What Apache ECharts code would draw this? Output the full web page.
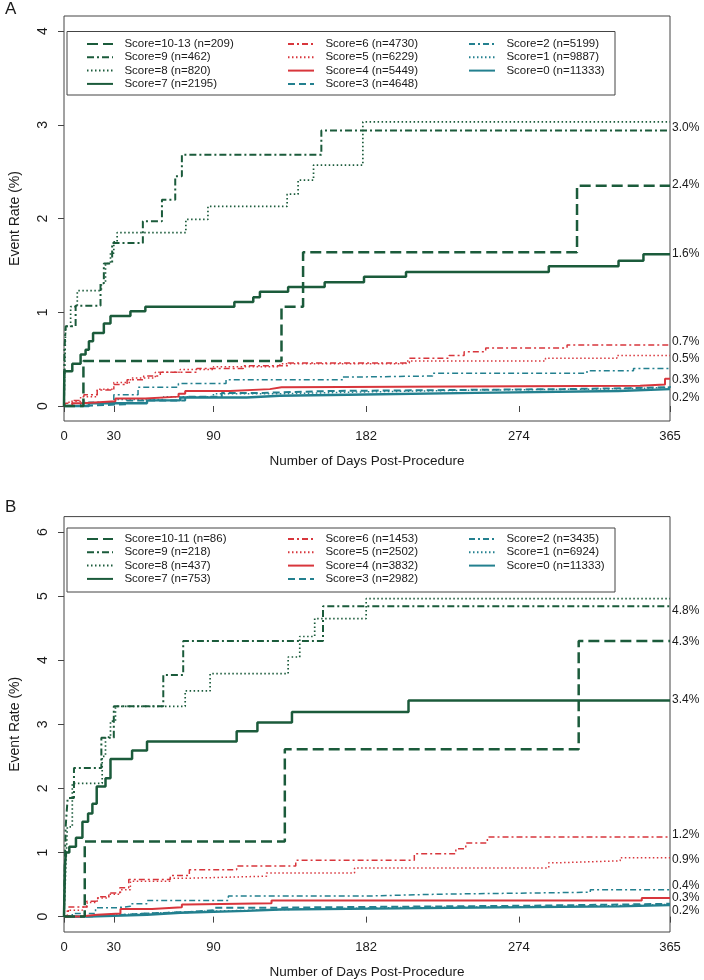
<!DOCTYPE html>
<html>
<head>
<meta charset="utf-8">
<script src="https://cdn.jsdelivr.net/npm/echarts@6/dist/echarts.min.js"></script>
<style>
html,body{margin:0;padding:0;background:#fff;}
#chart{width:704px;height:980px;}
</style>
</head>
<body>
<div id="chart"></div>
<script>
// ---------- data ----------
const xTicks = [0, 30, 90, 182, 274, 365];
const yTicksA = [0, 1, 2, 3, 4];
const yTicksB = [0, 1, 2, 3, 4, 5, 6];

const namesA = ['Score=10-13 (n=209)','Score=9 (n=462)','Score=8 (n=820)','Score=7 (n=2195)',
  'Score=6 (n=4730)','Score=5 (n=6229)','Score=4 (n=5449)','Score=3 (n=4648)',
  'Score=2 (n=5199)','Score=1 (n=9887)','Score=0 (n=11333)'];
const namesB = ['Score=10-11 (n=86)','Score=9 (n=218)','Score=8 (n=437)','Score=7 (n=753)',
  'Score=6 (n=1453)','Score=5 (n=2502)','Score=4 (n=3832)','Score=3 (n=2982)',
  'Score=2 (n=3435)','Score=1 (n=6924)','Score=0 (n=11333)'];

// panel A: [day, event rate %]
const a10 = [[0,0],[11.7,0.48],[131,1.06],[144,1.64],[309,2.35],[365,2.35]];
const a9  = [[0,0],[0.3,0.6],[1,0.85],[7,1.07],[22,1.31],[24,1.52],[29,1.74],[47.5,1.97],[59,2.20],[67,2.45],[71,2.68],[155,2.94],[365,2.94]];
const a8  = [[0,0],[1,0.85],[4,1.06],[8,1.23],[22.5,1.31],[25,1.52],[28,1.63],[30,1.75],[32,1.85],[73.4,1.99],[86.7,2.13],[134.4,2.26],[141,2.41],[150.3,2.57],[180,3.03],[365,3.03]];
const a7  = [[0,0],[0.2,0.37],[5,0.45],[10,0.55],[13,0.60],[15,0.69],[17.5,0.78],[24,0.88],[28,0.96],[40,1.01],[49,1.06],[102.6,1.11],[114,1.16],[118,1.22],[135,1.27],[157,1.32],[180.7,1.38],[206,1.43],[292,1.49],[334,1.55],[349,1.62],[365,1.62]];
const a6  = [[0,0],[1,0.03],[5,0.06],[12,0.12],[20,0.17],[30,0.23],[38,0.28],[48,0.32],[58,0.36],[80,0.40],[108,0.43],[135,0.46],[208,0.51],[232,0.54],[241,0.58],[254,0.62],[303,0.65],[365,0.65]];
const a5  = [[0,0],[3,0.05],[10,0.10],[20,0.18],[30,0.25],[40,0.30],[55,0.36],[70,0.39],[90,0.42],[130,0.45],[206,0.48],[290,0.51],[333,0.54],[365,0.54]];
const a4  = [[0,0],[5,0.03],[11,0.05],[31,0.08],[49,0.10],[69,0.13],[73,0.16],[100,0.18],[124,0.20],[131,0.216],[347,0.23],[362,0.29],[365,0.29]];
const a3  = [[0,0],[10,0.02],[38,0.06],[73,0.10],[95,0.14],[120,0.16],[160,0.17],[230,0.18],[300,0.19],[340,0.20],[365,0.21]];
const a2  = [[0,0],[10,0.04],[30,0.12],[44.6,0.20],[68.9,0.24],[97.6,0.28],[168,0.31],[180,0.32],[222,0.35],[315,0.375],[343,0.40],[365,0.40]];
const a1  = [[0,0],[10,0.03],[30,0.07],[60,0.10],[90,0.13],[130,0.15],[180,0.17],[250,0.18],[320,0.19],[350,0.20],[365,0.20]];
const a0  = [[0,0],[15,0.03],[50,0.06],[70,0.09],[110,0.11],[130,0.12],[171,0.14],[248,0.16],[334,0.18],[365,0.18]];

// panel B
const b10 = [[0,0],[12.5,1.17],[133,2.61],[310,4.30],[365,4.30]];
const b9  = [[0,0],[0.5,0.8],[1,1.40],[2.2,1.85],[6,2.32],[22.5,2.79],[30,3.28],[59.8,3.77],[71.8,4.30],[156,4.84],[365,4.84]];
const b8  = [[0,0],[1,0.7],[2,1.40],[5,2.08],[23,2.5],[25,2.8],[28,3.05],[31,3.28],[73,3.52],[88,3.79],[135,4.05],[142,4.37],[151,4.65],[182,4.96],[365,4.96]];
const b7  = [[0,0],[0.6,0.81],[1.2,1.0],[3.2,1.09],[7.2,1.23],[11.1,1.48],[14.5,1.61],[17.1,1.76],[19.7,2.03],[25,2.16],[28,2.46],[41,2.59],[50,2.73],[104,2.89],[116.5,3.03],[137.3,3.19],[207.5,3.37],[365,3.37]];
const b6  = [[0,0],[2.6,0.15],[13.7,0.24],[20.3,0.31],[27,0.37],[33.6,0.45],[39,0.58],[64,0.64],[75.5,0.73],[104,0.79],[139.6,0.88],[211,0.98],[236,1.06],[242,1.15],[255,1.24],[365,1.24]];
const b5  = [[0,0],[2,0.10],[11,0.15],[14,0.22],[20,0.29],[27,0.35],[34,0.42],[40,0.55],[64,0.60],[76,0.63],[122,0.68],[175,0.76],[292,0.84],[298,0.87],[335,0.92],[365,0.92]];
const b4  = [[0,0],[10,0.03],[20,0.05],[34,0.12],[53,0.145],[71,0.19],[74,0.21],[125,0.25],[348,0.29],[365,0.29]];
const b3  = [[0,0],[12,0.02],[30,0.05],[50,0.07],[75,0.10],[90,0.14],[130,0.15],[180,0.17],[280,0.19],[340,0.20],[365,0.20]];
const b2  = [[0,0],[5,0.05],[19,0.14],[32,0.16],[40,0.20],[50,0.25],[99,0.32],[182,0.35],[226,0.38],[317,0.42],[365,0.42]];
const b1  = [[0,0],[8,0.02],[25,0.05],[50,0.08],[80,0.11],[130,0.14],[200,0.16],[300,0.18],[350,0.19],[365,0.19]];
const b0  = [[0,0],[15,0.03],[50,0.06],[70,0.09],[110,0.11],[130,0.12],[171,0.14],[248,0.16],[334,0.18],[365,0.18]];

// right-edge labels (value position, text)
const endPosA = [2.97, 2.36, 1.62, 0.69, 0.50, 0.28, 0.09];
const endTxtA = ['3.0%','2.4%','1.6%','0.7%','0.5%','0.3%','0.2%'];
const endPosB = [4.96, 4.78, 4.29, 3.38, 1.28, 0.89, 0.48, 0.29, 0.09];
const endTxtB = ['5.0%','4.8%','4.3%','3.4%','1.2%','0.9%','0.4%','0.3%','0.2%'];

// ---------- styles ----------
const GREEN = '#1b5b3b', RED = '#d8363c', TEAL = '#23808f';
const styles = [
  {color: GREEN, width: 2.5, type: [11, 5]},
  {color: GREEN, width: 2.0, type: [7, 3, 2, 3]},
  {color: GREEN, width: 1.7, type: [1.5, 2.5]},
  {color: GREEN, width: 2.5, type: 'solid'},
  {color: RED,   width: 1.5, type: [6, 3, 2, 3]},
  {color: RED,   width: 1.5, type: [1.5, 2.5]},
  {color: RED,   width: 2.0, type: 'solid'},
  {color: TEAL,  width: 2.0, type: [7, 4]},
  {color: TEAL,  width: 1.5, type: [6, 3, 2, 3]},
  {color: TEAL,  width: 1.5, type: [1.5, 2.5]},
  {color: TEAL,  width: 2.4, type: 'solid'}
];
const dataA = [a10,a9,a8,a7,a6,a5,a4,a3,a2,a1,a0];
const dataB = [b10,b9,b8,b7,b6,b5,b4,b3,b2,b1,b0];

const FONT = 'Liberation Sans, Arial, Helvetica, sans-serif';
const TXT = '#1a1a1a';

function mkSeries(names, datas, gi, idPrefix){
  return datas.map((d, i) => ({
    id: idPrefix + i,
    name: names[i],
    type: 'line',
    step: 'end',
    symbol: 'none',
    showSymbol: false,
    xAxisIndex: gi,
    yAxisIndex: gi * 2,
    data: d,
    lineStyle: Object.assign({}, styles[i]),
    itemStyle: {color: styles[i].color},
    silent: true,
    z: 2 + (10 - i) * 0.01
  }));
}

function mkLegends(names, top){
  const cols = [[0,1,2,3],[4,5,6,7],[8,9,10]];
  const lefts = [86, 287, 468];
  return cols.map((c, k) => ({
    orient: 'vertical',
    left: lefts[k],
    top: top,
    padding: 0,
    itemWidth: 26,
    itemHeight: 10,
    itemGap: 1.3,
    selectedMode: false,
    z: 5,
    itemStyle: {opacity: 0},
    data: c.map(i => names[i]),
    formatter: n => '  ' + n,
    textStyle: {fontFamily: FONT, fontSize: 11.5, color: TXT, lineHeight: 12}
  }));
}

function mkX(gi){
  return {
    type: 'value', gridIndex: gi, min: 0, max: 365,
    name: 'Number of Days Post-Procedure', nameLocation: 'middle', nameGap: 33,
    nameTextStyle: {fontFamily: FONT, fontSize: 13.5, color: TXT},
    axisLine: {show: false},
    axisTick: {show: true, length: 6, lineStyle: {color: '#444'}, customValues: xTicks},
    axisLabel: {fontFamily: FONT, fontSize: 13, color: TXT, margin: 9, customValues: xTicks},
    splitLine: {show: false}
  };
}
function mkY(gi, min, max, ticks){
  return {
    type: 'value', gridIndex: gi, min: min, max: max,
    name: 'Event Rate (%)', nameLocation: 'middle', nameGap: 42,
    nameTextStyle: {fontFamily: FONT, fontSize: 14, color: TXT},
    axisLine: {show: false},
    axisTick: {show: true, length: 6, lineStyle: {color: '#444'}, customValues: ticks},
    axisLabel: {fontFamily: FONT, fontSize: 14, color: TXT, rotate: 90, margin: 14, customValues: ticks},
    splitLine: {show: false}
  };
}
function mkYR(gi, min, max, pos, txt){
  return {
    type: 'value', gridIndex: gi, min: min, max: max, position: 'right',
    axisLine: {show: false}, axisTick: {show: false}, splitLine: {show: false},
    axisLabel: {
      fontFamily: FONT, fontSize: 12, color: TXT, margin: 2, customValues: pos,
      formatter: v => { const k = pos.indexOf(v); return k >= 0 ? txt[k] : ''; }
    }
  };
}

const chart = echarts.init(document.getElementById('chart'), null, {renderer: 'canvas'});
chart.setOption({
  animation: false,
  backgroundColor: '#fff',
  grid: [
    {left: 58, width: 612, top: 16, height: 405, show: true, borderColor: '#444', borderWidth: 1, backgroundColor: 'transparent'},
    {left: 58, width: 612, top: 516.6, height: 415.8, show: true, borderColor: '#444', borderWidth: 1, backgroundColor: 'transparent'}
  ],
  xAxis: [mkX(0), mkX(1)],
  yAxis: [
    mkY(0, -0.16, 4.16, yTicksA), mkYR(0, -0.16, 4.16, endPosA, endTxtA),
    mkY(1, -0.24, 6.24, yTicksB), mkYR(1, -0.24, 6.24, endPosB, endTxtB)
  ],
  legend: mkLegends(namesA, 38).concat(mkLegends(namesB, 533)),
  graphic: [
    {type: 'rect', shape: {x: 67, y: 31.5, width: 548, height: 63.5}, style: {fill: '#fff', stroke: '#444', lineWidth: 1}, z: 3},
    {type: 'rect', shape: {x: 67, y: 528, width: 548, height: 64}, style: {fill: '#fff', stroke: '#444', lineWidth: 1}, z: 3},
    {type: 'text', left: 5, top: 1, style: {text: 'A', font: '17px Liberation Sans, Arial', fill: TXT}},
    {type: 'text', left: 5, top: 499, style: {text: 'B', font: '17px Liberation Sans, Arial', fill: TXT}}
  ],
  series: mkSeries(namesA, dataA, 0, 'a').concat(mkSeries(namesB, dataB, 1, 'b'))
});
</script>
</body>
</html>
